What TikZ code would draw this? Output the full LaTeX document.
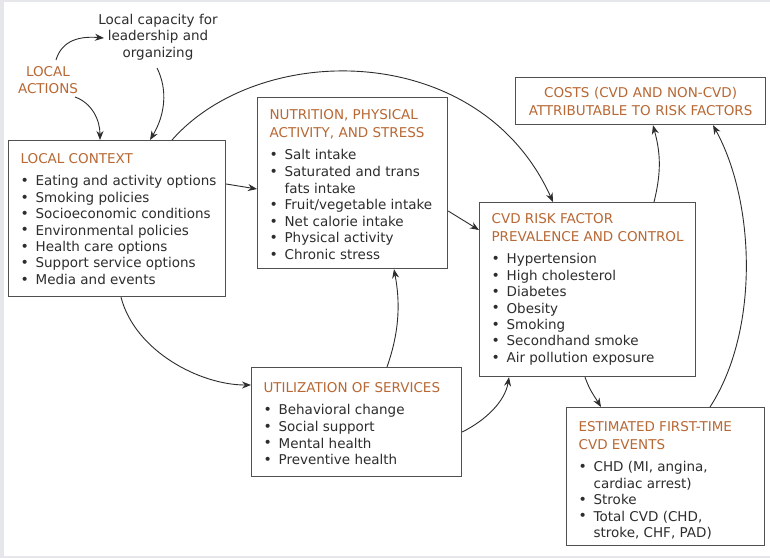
\documentclass[tikz,border=0pt]{standalone}
\usepackage{fontspec}
\setmainfont{DejaVu Sans}
\usetikzlibrary{calc,arrows.meta}
\definecolor{titlec}{RGB}{184,104,52}
\definecolor{txtc}{RGB}{45,45,45}
\definecolor{edgec}{RGB}{80,80,80}
\definecolor{framec}{RGB}{229,231,234}
\newcommand{\blt}{\makebox[15pt][l]{\raisebox{0.2pt}{\fontsize{14}{14}\selectfont •}}}
\newcommand{\cnt}{\hspace*{15pt}}
\newcommand{\ttl}[1]{{\color{titlec}#1}}
\newcommand{\boxtext}[3]{\raisebox{-#2}[\height][\depth]{\makebox[#1][l]{\begin{tabular}{@{}l@{}}#3\end{tabular}}}}
\tikzset{
  box/.style={draw=edgec, line width=1.2pt, fill=white, anchor=north west,
    inner xsep=12pt, inner ysep=0pt, text=txtc,
    font=\fontsize{13.5}{16.4}\selectfont},
  plain/.style={align=center, inner sep=0pt, font=\fontsize{13.5}{16.3}\selectfont},
  conn/.style={draw=txtc, line width=0.9pt, -{Stealth[length=9pt,width=7pt]}}
}
\begin{document}
\begin{tikzpicture}[x=1pt,y=-1pt]
\useasboundingbox (0,0) rectangle (770,558);
\fill[framec] (0,0) rectangle (770,558);
\fill[white] (4,2) rectangle (770,556);

\node[box, minimum width=217pt, minimum height=156pt] (ctx) at (8,140)
 {\boxtext{193pt}{2pt}{\ttl{LOCAL CONTEXT}\\[6pt]
  \blt Eating and activity options\\
  \blt Smoking policies\\
  \blt Socioeconomic conditions\\
  \blt Environmental policies\\
  \blt Health care options\\
  \blt Support service options\\
  \blt Media and events}};

\node[box, minimum width=190pt, minimum height=171pt, font=\fontsize{13.5}{16.6}\selectfont] (nut) at (257,97)
 {\boxtext{166pt}{3pt}{\ttl{NUTRITION, PHYSICAL}\\[1.2pt]
  \ttl{ACTIVITY, AND STRESS}\\[6pt]
  \blt Salt intake\\
  \blt Saturated and trans\\
  \cnt fats intake\\
  \blt Fruit/vegetable intake\\
  \blt Net calorie intake\\
  \blt Physical activity\\
  \blt Chronic stress}};

\node[box, minimum width=216pt, minimum height=174pt] (cvd) at (479,202)
 {\boxtext{192pt}{0pt}{\ttl{CVD RISK FACTOR}\\[1.7pt]
  \ttl{PREVALENCE AND CONTROL}\\[6pt]
  \blt Hypertension\\
  \blt High cholesterol\\
  \blt Diabetes\\
  \blt Obesity\\
  \blt Smoking\\
  \blt Secondhand smoke\\
  \blt Air pollution exposure}};

\node[box, minimum width=250pt, minimum height=47pt, text width=226pt, align=center, text=titlec] (costs) at (515,77)
 {COSTS (CVD AND NON-CVD)\\[1.7pt]
  ATTRIBUTABLE TO RISK FACTORS};

\node[box, minimum width=210pt, minimum height=109pt, font=\fontsize{13.5}{16.6}\selectfont] (util) at (251,367)
 {\boxtext{186pt}{3pt}{\ttl{UTILIZATION OF SERVICES}\\[6pt]
  \blt Behavioral change\\
  \blt Social support\\
  \blt Mental health\\
  \blt Preventive health}};

\node[box, minimum width=198pt, minimum height=138pt] (est) at (566,407)
 {\boxtext{174pt}{4.5pt}{\ttl{ESTIMATED FIRST-TIME}\\[1.7pt]
  \ttl{CVD EVENTS}\\[6pt]
  \blt CHD (MI, angina,\\
  \cnt cardiac arrest)\\
  \blt Stroke\\
  \blt Total CVD (CHD,\\
  \cnt stroke, CHF, PAD)}};

\node[plain, text=titlec] (actions) at (48,80) {LOCAL\\ACTIONS};
\node[plain, text=txtc] (capacity) at (158,37) {Local capacity for\\leadership and\\organizing};

% connectors
\draw[conn] ($(actions.center)+(8,-20)$) .. controls +(6,-20) and +(-24,-2) .. ($(capacity.center)+(-54,1)$);
\draw[conn] ($(actions.center)+(27,17)$) .. controls +(17,6) and +(0,-20) .. ($(ctx.north west)+(92,0)$);
\draw[conn] ($(capacity.center)+(-1,31)$) .. controls +(11,22) and +(15,-25) .. ($(ctx.north west)+(142,0)$);
\draw[conn] ($(ctx.north west)+(164,0)$) .. controls +(88,-100) and +(-73,-162) .. ($(cvd.north west)+(74,0)$);
\draw[conn] ($(ctx.north east)+(0,44)$) -- ($(nut.north west)+(0,92)$);
\draw[conn] ($(nut.north east)+(0,114)$) -- ($(cvd.north west)+(0,28)$);
\draw[conn] ($(ctx.south west)+(113,0)$) .. controls +(14,54) and +(-51,0) .. ($(util.north west)+(0,18)$);
\draw[conn] ($(util.north west)+(136,0)$) .. controls +(13,-37) and +(6,32) .. ($(nut.south west)+(137,0)$);
\draw[conn] ($(util.north east)+(0,65)$) .. controls +(24,-12) and +(-4,24) .. ($(cvd.south west)+(30,0)$);
\draw[conn] ($(cvd.south west)+(106,0)$) .. controls +(5,14) and +(-6,-10) .. ($(est.north west)+(35,0)$);
\draw[conn] ($(cvd.north west)+(175,0)$) .. controls +(8,-32) and +(7,26) .. ($(costs.south west)+(138,0)$);
\draw[conn] ($(est.north west)+(144,0)$) .. controls +(50,-77) and +(42,76) .. ($(costs.south west)+(198,0)$);
\end{tikzpicture}
\end{document}
